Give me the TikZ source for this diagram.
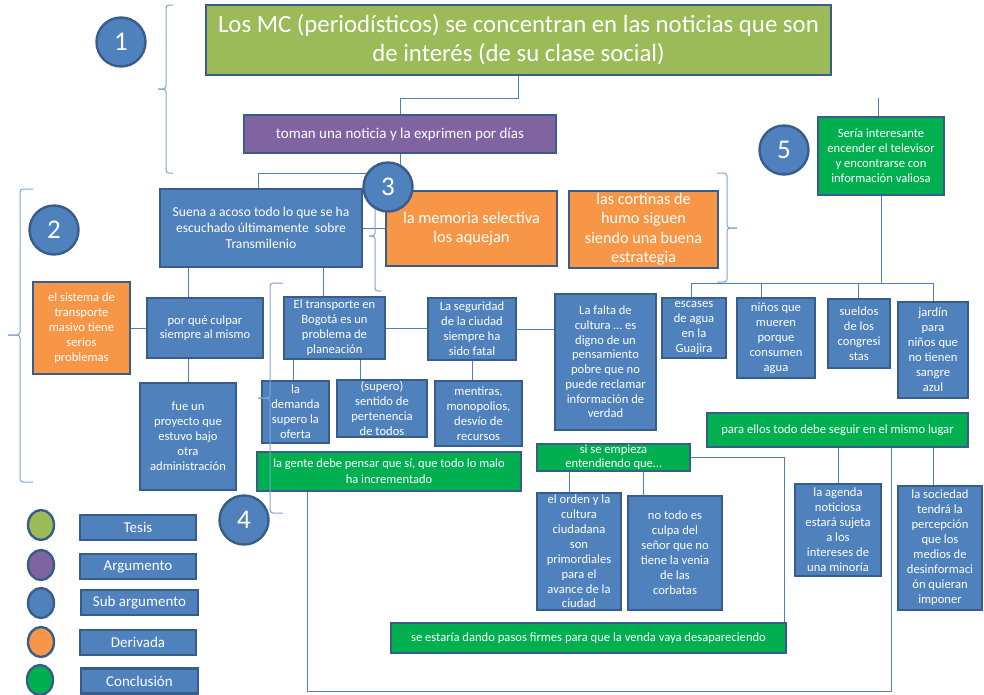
\documentclass[tikz,border=0pt]{standalone}
\usepackage{fontspec}
\setmainfont{Carlito}
\usetikzlibrary{calc,backgrounds,shapes.geometric}
\definecolor{bblue}{HTML}{4F81BD}
\definecolor{bborder}{HTML}{385D8A}
\definecolor{tgreen}{HTML}{9BBB59}
\definecolor{apurple}{HTML}{8064A2}
\definecolor{dorange}{HTML}{F79646}
\definecolor{cgreen}{HTML}{00B050}
\definecolor{lline}{HTML}{7FA3D3}
\begin{document}
\begin{tikzpicture}[x=1pt,y=-1pt,
  bx/.style={draw=bborder, line width=2.4pt, inner sep=0pt, align=center, text=white, font=\fontsize{12.6}{15}\selectfont},
  circ/.style={circle, draw=bborder, fill=bblue, line width=2.4pt, minimum size=49pt, inner sep=0pt, text=white, font=\fontsize{27}{30}\selectfont},
  leg/.style={ellipse, draw=bborder, line width=2.4pt, minimum width=26pt, minimum height=30pt, inner sep=0pt},
  legbox/.style={bx, fill=bblue, minimum width=116pt, minimum height=25pt, font=\fontsize{15}{17}\selectfont},
  con/.style={draw=bblue, line width=1pt},
  brc/.style={draw=lline, line width=1pt, rounded corners=3pt}]
\useasboundingbox (0,0) rectangle (984,694);

% main boxes
\node[bx, fill=tgreen, minimum width=625pt, minimum height=70pt, font=\fontsize{24.8}{29}\selectfont] (tesis) at (518.5,40) {Los MC (periodísticos) se concentran en las noticias que son\\de interés (de su clase social)};
\node[bx, fill=apurple, minimum width=312pt, minimum height=38pt, font=\fontsize{15}{17}\selectfont] (toman) at (400,134) {toman una noticia y la exprimen por días};
\node[bx, fill=bblue, minimum width=202pt, minimum height=78pt, font=\fontsize{13.6}{16}\selectfont] (suena) at (261,228) {Suena a acoso todo lo que se ha\\escuchado últimamente\ \ sobre\\Transmilenio};
\node[bx, fill=dorange, minimum width=171pt, minimum height=75pt, font=\fontsize{16.4}{19}\selectfont] (memoria) at (471.5,228.5) {la memoria selectiva\\los aquejan};
\node[bx, fill=dorange, minimum width=149pt, minimum height=77pt, font=\fontsize{16.2}{19.5}\selectfont] (cortinas) at (643.5,229.5) {las cortinas de\\humo siguen\\siendo una buena\\estrategia};
\node[bx, fill=cgreen, minimum width=126pt, minimum height=78pt, font=\fontsize{12.6}{15}\selectfont] (seria) at (881,156) {Sería interesante\\encender el televisor\\y encontrarse con\\información valiosa};
\node[bx, fill=dorange, minimum width=97pt, minimum height=92pt] (sistema) at (81.5,328) {el sistema de\\transporte\\masivo tiene\\serios\\problemas};
\node[bx, fill=bblue, minimum width=116pt, minimum height=60pt, font=\fontsize{12.6}{14}\selectfont] (porque) at (205,328) {por qué culpar\\siempre al mismo};
\node[bx, fill=bblue, minimum width=96pt, minimum height=107pt] (fue) at (188,436.5) {fue un\\proyecto que\\estuvo bajo\\otra\\administración};
\node[bx, fill=bblue, minimum width=101pt, minimum height=62pt] (eltransporte) at (334.5,328) {El transporte en\\Bogotá es un\\problema de\\planeación};
\node[bx, fill=bblue, minimum width=88pt, minimum height=62pt] (seguridad) at (472,329) {La seguridad\\de la ciudad\\siempre ha\\sido fatal};
\node[bx, fill=bblue, minimum width=101pt, minimum height=136pt, font=\fontsize{12.6}{14.7}\selectfont] (falta) at (605.5,362) {La falta de\\cultura … es\\digno de un\\pensamiento\\pobre que no\\puede reclamar\\información de\\verdad};
\node[bx, fill=bblue, minimum width=64pt, minimum height=60pt] (escases) at (694,328) {escases\\de agua\\en la\\Guajira};
\node[bx, fill=bblue, minimum width=78pt, minimum height=80pt] (ninos) at (776,338) {niños que\\mueren\\porque\\consumen\\agua};
\node[bx, fill=bblue, minimum width=62pt, minimum height=69pt] (sueldos) at (859,333.5) {sueldos\\de los\\congresi\\stas};
\node[bx, fill=bblue, minimum width=70pt, minimum height=96pt] (jardin) at (933,350) {jardín\\para\\niños que\\no tienen\\sangre\\azul};
\node[bx, fill=bblue, minimum width=67pt, minimum height=62pt] (demanda) at (295.5,412) {la\\demanda\\supero la\\oferta};
\node[bx, fill=bblue, minimum width=90pt, minimum height=57pt] (supero) at (382,408.5) {(supero)\\sentido de\\pertenencia\\de todos};
\node[bx, fill=bblue, minimum width=87pt, minimum height=65pt] (mentiras) at (478.5,413.5) {mentiras,\\monopolios,\\desvío de\\recursos};
\node[bx, fill=cgreen, minimum width=264pt, minimum height=39pt, font=\fontsize{12.5}{16}\selectfont] (gente) at (389,471.5) {la gente debe pensar que sí, que todo lo malo\\ha incrementado};
\node[bx, fill=cgreen, minimum width=261pt, minimum height=34pt] (paraellos) at (837.5,430) {para ellos todo debe seguir en el mismo lugar};
\node[bx, fill=bblue, minimum width=86pt, minimum height=92pt] (agenda) at (838,530) {la agenda\\noticiosa\\estará sujeta\\a los\\intereses de\\una minoría};
\node[bx, fill=bblue, minimum width=84pt, minimum height=124pt] (sociedad) at (940,548) {la sociedad\\tendrá la\\percepción\\que los\\medios de\\desinformaci\\ón quieran\\imponer};
\node[bx, fill=cgreen, minimum width=153pt, minimum height=27pt, font=\fontsize{12.6}{14}\selectfont] (sise) at (613.5,457.5) {si se empieza\\entendiendo que…};
\node[bx, fill=bblue, minimum width=84pt, minimum height=117pt, font=\fontsize{12.6}{14.9}\selectfont] (orden) at (579,551.5) {el orden y la\\cultura\\ciudadana\\son\\primordiales\\para el\\avance de la\\ciudad};
\node[bx, fill=bblue, minimum width=94pt, minimum height=114pt] (notodo) at (675,553) {no todo es\\culpa del\\señor que no\\tiene la venia\\de las\\corbatas};
\node[bx, fill=cgreen, minimum width=395pt, minimum height=30pt] (seestaria) at (588.5,638) {se estaría dando pasos firmes para que la venda vaya desapareciendo};

% legend
\node[leg, fill=tgreen] (l1) at (41,525) {};
\node[leg, fill=apurple] (l2) at (41,565) {};
\node[leg, fill=bblue] (l3) at (41,603) {};
\node[leg, fill=dorange] (l4) at (41,642) {};
\node[leg, fill=cgreen] (l5) at (40,680) {};
\node[legbox] (tesisL) at (138,527.5) {Tesis};
\node[legbox] (argL) at (138,566.5) {Argumento};
\node[legbox, minimum width=117pt] (subL) at (139.5,602.5) {Sub argumento};
\node[legbox] (derL) at (138,642.5) {Derivada};
\node[legbox, minimum width=117pt] (conL) at (139.5,681) {Conclusión};

% connectors
\coordinate (seriatop) at (878,98);
\coordinate (bus) at (0,283);
\begin{pgfonlayer}{background}
\draw[con] (tesis.south) -- ++(0,22) -| (toman.north);
\draw[con] (toman.south) -- ++(0,19) -| ($(suena.north)+(-3,0)$);
\draw[con] (suena.east) -- (memoria.west |- suena.east);
\draw[con] (suena.south -| fue.north) -- (porque.north -| fue.north);
\draw[con] (porque.south -| fue.north) -- (fue.north);
\draw[con] (sistema.east) -- (porque.west);
\draw[con] ($(eltransporte.north)+(-11.5,0)$) coordinate (et1) -- (et1 |- suena.south);
\draw[con] (eltransporte.east) -- (seguridad.west |- eltransporte.east);
\draw[con] (seguridad.east) -- (falta.west |- seguridad.east);
\draw[con] ($(demanda.north)+(-2.5,0)$) coordinate (d1) -- (d1 |- eltransporte.south);
\draw[con] ($(supero.north)+(-22,0)$) coordinate (s1) -- (s1 |- eltransporte.south);
\draw[con] (seguridad.south) -- (seguridad.south |- mentiras.north);
\draw[con] (seriatop) -- (seriatop |- seria.north);
\draw[con] (seria.south) -- (seria.south |- bus);
\draw[con] ($(escases.north)+(-3,0)$) coordinate (e1) -- (e1 |- bus) -- (jardin.north |- bus) -- (jardin.north);
\draw[con] ($(ninos.north)+(-15,0)$) coordinate (n1) -- (n1 |- bus);
\draw[con] ($(sueldos.north)+(-1,0)$) coordinate (su1) -- (su1 |- bus);
\draw[con] ($(gente.south)+(-82,0)$) -- ++(0,199) -| ($(paraellos.south)+(53.5,0)$);
\draw[con] (agenda.north) -- (agenda.north |- paraellos.south);
\draw[con] ($(sociedad.north)+(-7,0)$) coordinate (so1) -- (so1 |- paraellos.south);
\draw[con] ($(orden.north)+(-10,0)$) coordinate (o1) -- (o1 |- sise.south);
\draw[con] ($(notodo.north)+(-32,0)$) coordinate (nt1) -- (nt1 |- sise.south);
\draw[con] (sise.east) -| ($(seestaria.north)+(195.5,0)$);
\end{pgfonlayer}

% braces
\draw[brc] (173,5) -| (166,89) -- (158,89);
\draw[brc] (158,89) -- (166,89) |- (173,173);
\draw[brc] (33,189) -| (20,335) -- (8,335);
\draw[brc] (8,335) -- (20,335) |- (33,482);
\draw[brc] (381,200) -| (375,236) -- (369,236);
\draw[brc] (369,236) -- (375,236) |- (381,291);
\draw[brc] (717,173) -| (727,228) -- (737,228);
\draw[brc] (737,228) -- (727,228) |- (717,282);
\draw[brc] (283,283) -| (270,398) -- (258,398);
\draw[brc] (258,398) -- (270,398) |- (283,513);

% numbered circles
\node[circ] (c1) at (121,42) {1};
\node[circ] (c2) at (54,230) {2};
\node[circ] (c3) at (388,187) {3};
\node[circ] (c4) at (244,520) {4};
\node[circ] (c5) at (784,150) {5};
\end{tikzpicture}
\end{document}
